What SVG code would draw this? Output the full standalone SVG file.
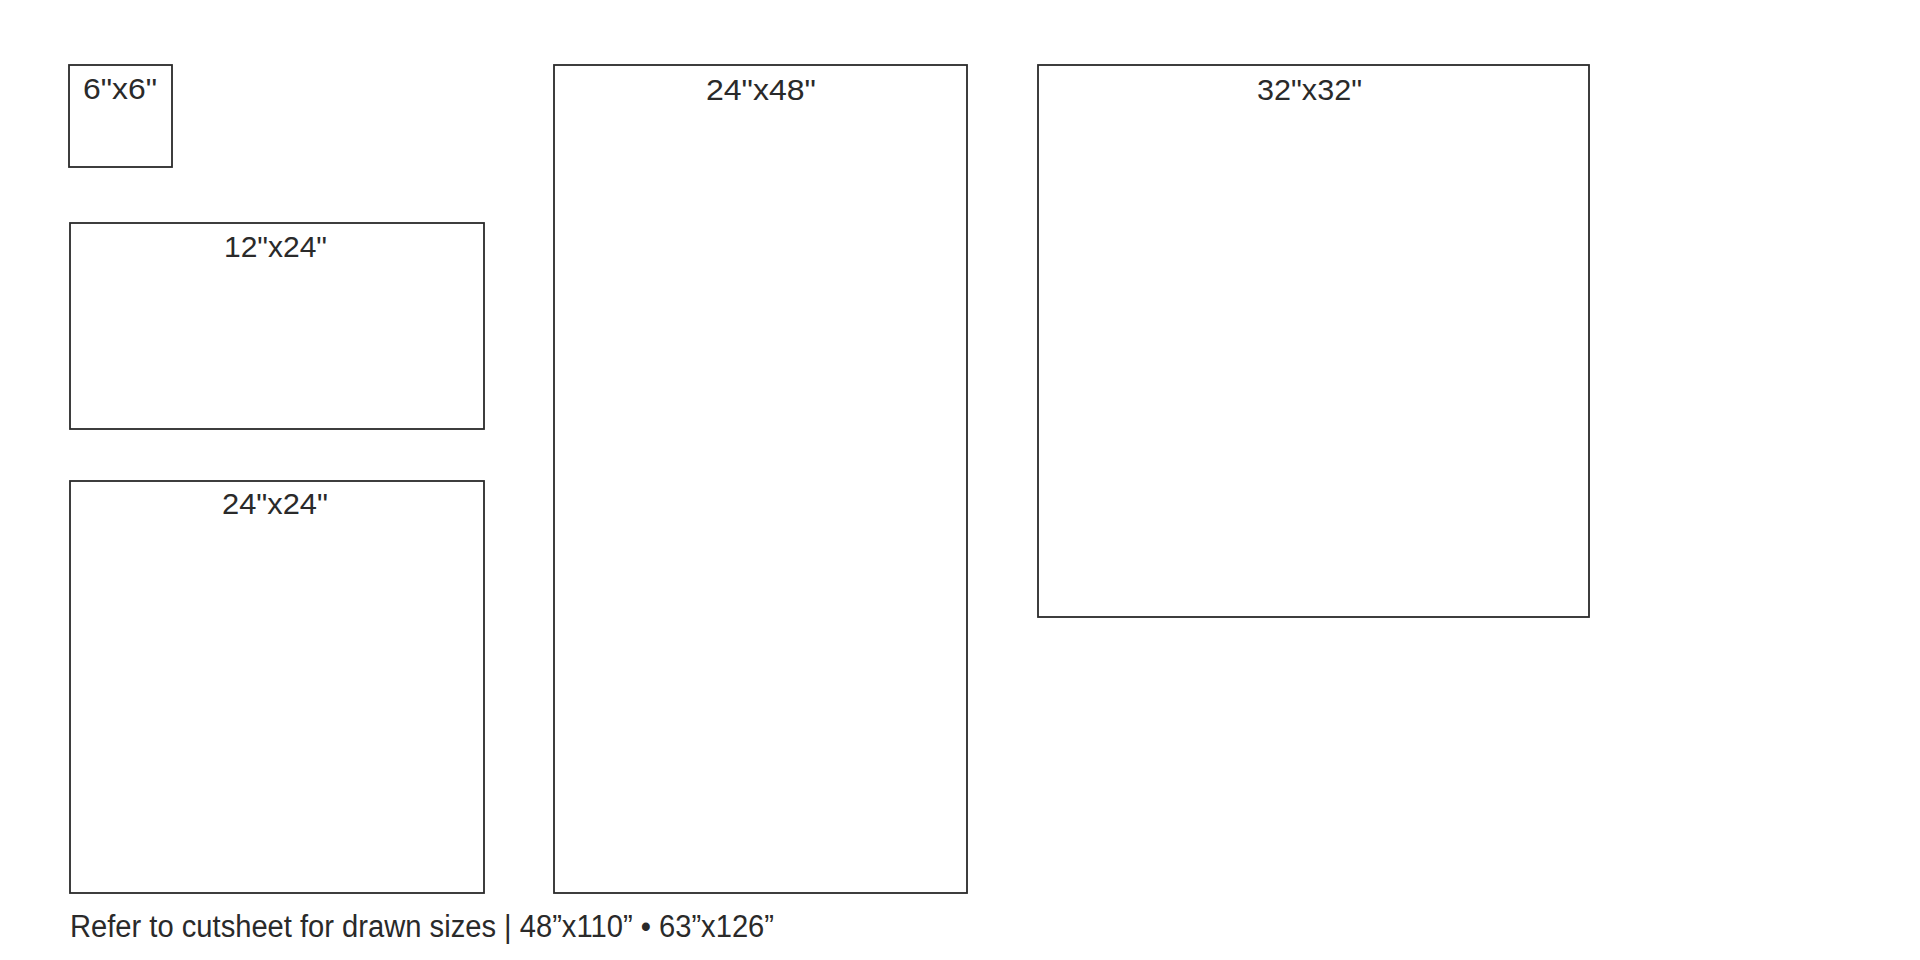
<svg xmlns="http://www.w3.org/2000/svg" width="1920" height="960" viewBox="0 0 1920 960">
<style>
.box{fill:#fff;stroke:#2a2a2a;stroke-width:1.8}
.lbl{font-family:'Century Gothic','URW Gothic','Liberation Sans',sans-serif;font-size:30px;fill:#2a2a2a}
.note{font-family:'Century Gothic','URW Gothic','Liberation Sans',sans-serif;font-size:31px;fill:#2a2a2a}
</style>
<rect width="1920" height="960" fill="#fff"/>
<g id="connectors"></g>
<g id="panel-6x6">
<rect class="box" x="69" y="65" width="103" height="102"/>
<text class="lbl" x="83" y="99" textLength="74" lengthAdjust="spacingAndGlyphs">6"x6"</text>
</g>
<g id="panel-12x24">
<rect class="box" x="70" y="223" width="414" height="206"/>
<text class="lbl" x="224" y="257" textLength="103" lengthAdjust="spacingAndGlyphs">12"x24"</text>
</g>
<g id="panel-24x24">
<rect class="box" x="70" y="481" width="414" height="412"/>
<text class="lbl" x="222" y="514" textLength="106" lengthAdjust="spacingAndGlyphs">24"x24"</text>
</g>
<g id="panel-24x48">
<rect class="box" x="554" y="65" width="413" height="828"/>
<text class="lbl" x="706" y="100" textLength="110" lengthAdjust="spacingAndGlyphs">24"x48"</text>
</g>
<g id="panel-32x32">
<rect class="box" x="1038" y="65" width="551" height="552"/>
<text class="lbl" x="1257" y="100" textLength="105" lengthAdjust="spacingAndGlyphs">32"x32"</text>
</g>
<g id="note">
<text class="note" x="70" y="937" textLength="704" lengthAdjust="spacingAndGlyphs">Refer to cutsheet for drawn sizes  |  48”x110” • 63”x126”</text>
</g>
</svg>
